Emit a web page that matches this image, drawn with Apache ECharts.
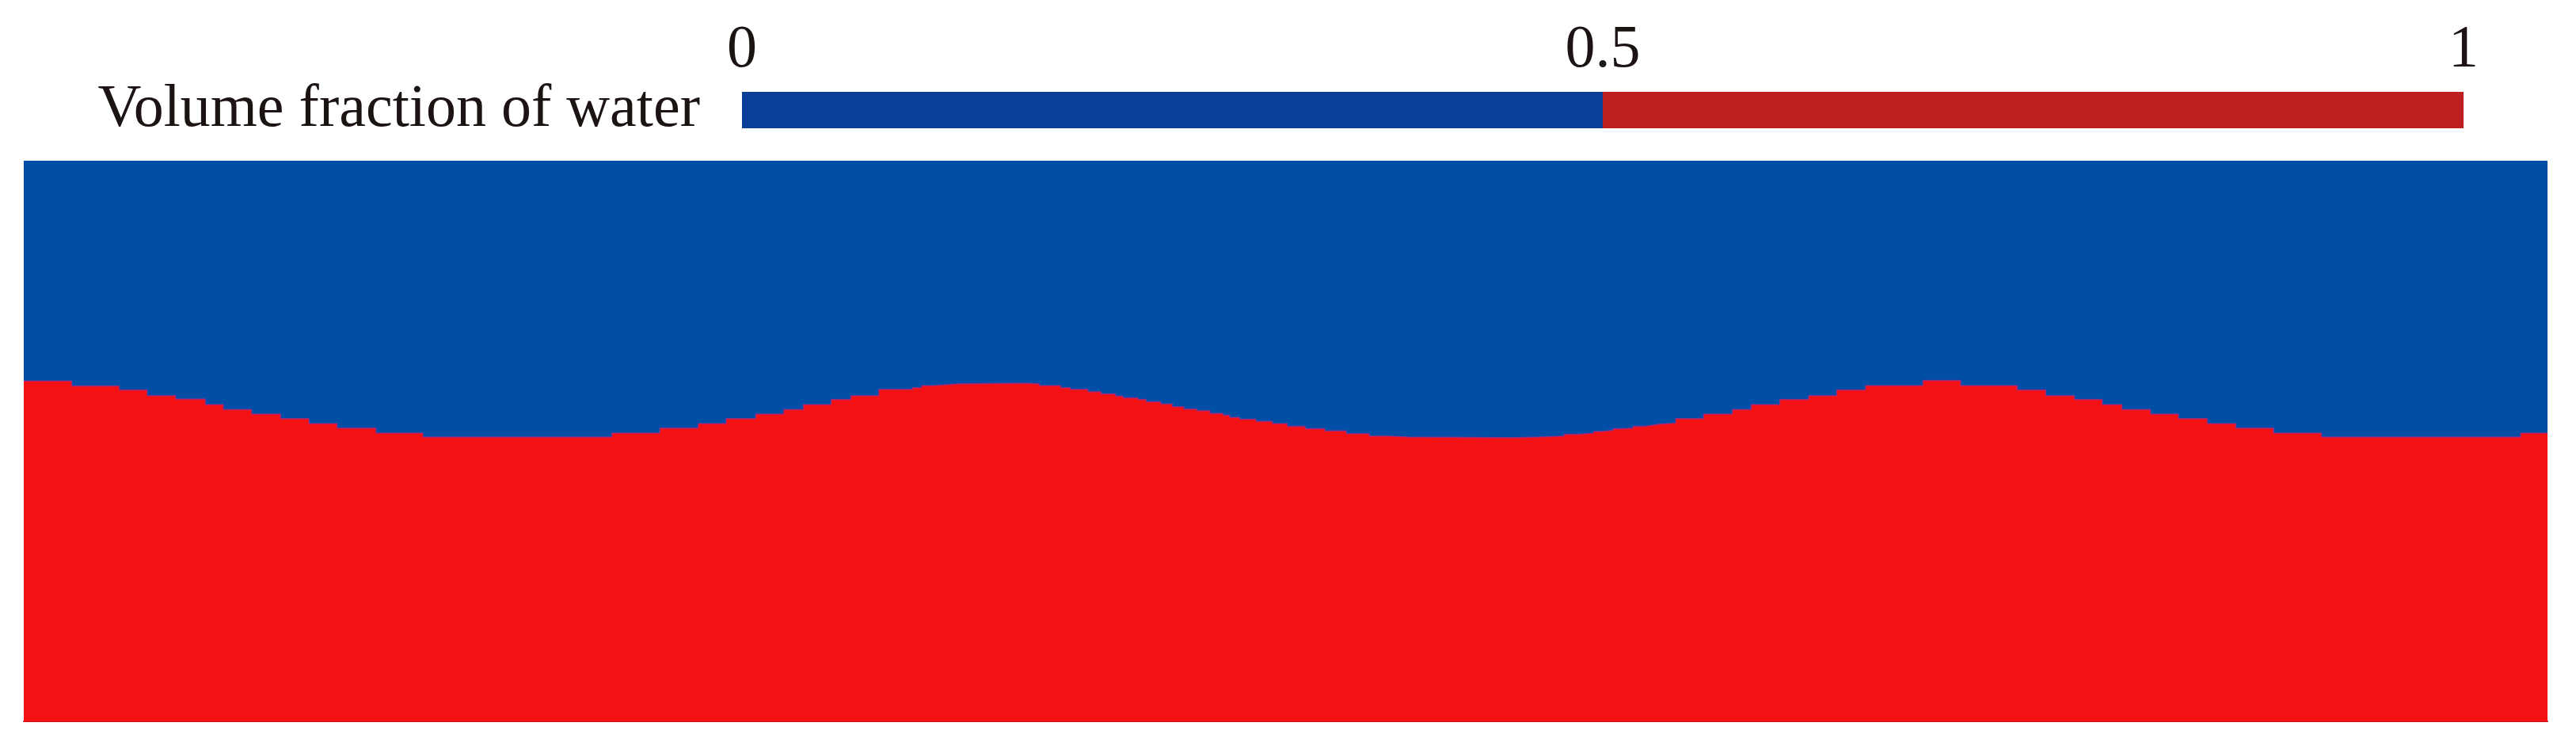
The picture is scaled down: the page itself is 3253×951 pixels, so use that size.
<!DOCTYPE html>
<html>
<head>
<meta charset="utf-8">
<title>Volume fraction of water</title>
<script src="https://cdn.jsdelivr.net/npm/echarts@6/dist/echarts.min.js"></script>
<style>
  html, body { margin: 0; padding: 0; background: #fff; }
  #main { width: 3253px; height: 951px; }
</style>
</head>
<body>
<div id="main"></div>
<script>
// free surface: x along the tank (m), water depth (cm)
// each depth holds from its x until the next x (stepped VOF cells)
var stepX = [
  0.000, 0.304, 0.605, 0.782, 0.963, 1.151, 1.265, 1.444, 1.628, 1.808, 1.986, 2.233, 2.531,
  3.729, 4.033, 4.276, 4.453, 4.641, 4.818, 4.943, 5.119, 5.244, 5.421, 5.634, 5.692, 5.764, 5.827, 5.931, 6.337,
  6.438, 6.574, 6.636, 6.746, 6.830, 6.921, 6.969, 7.063, 7.115, 7.208, 7.281, 7.354, 7.437, 7.521,
  7.604, 7.645, 7.708, 7.812, 7.916, 8.010, 8.124, 8.249, 8.384, 8.530, 8.655, 8.780, 9.446, 9.602,
  9.766, 9.860, 9.953, 10.005, 10.078, 10.130, 10.203, 10.272, 10.321, 10.370, 10.473, 10.650, 10.833,
  10.952, 11.133, 11.316, 11.494, 11.677, 12.041, 12.279, 12.638, 12.819,
  13.000, 13.177, 13.302, 13.483, 13.660, 13.843, 14.024, 14.263, 14.567, 15.830, 16.000
]
var waterDepth = [
  60.7, 59.8, 59.1, 58.1, 57.5, 56.5, 55.6, 54.8, 54.0, 53.1, 52.3, 51.4, 50.7,
  51.4, 52.3, 53.1, 54.0, 54.8, 55.6, 56.5, 57.4, 58.1, 59.2, 59.5, 59.9, 60.0, 60.2, 60.3, 60.2,
  59.9, 59.5, 59.2, 58.8, 58.4, 58.0, 57.7, 57.4, 57.0, 56.6, 56.1, 55.7, 55.4, 54.9,
  54.6, 54.2, 53.9, 53.5, 53.1, 52.6, 52.2, 51.8, 51.3, 50.9, 50.7, 50.6, 50.7, 50.9,
  51.2, 51.4, 51.7, 51.9, 52.2, 52.3, 52.6, 52.8, 53.0, 53.2, 54.0, 54.8, 55.6,
  56.5, 57.4, 58.1, 59.1, 59.9, 60.8, 59.9, 59.1, 58.1,
  57.4, 56.5, 55.6, 54.8, 54.0, 53.1, 52.3, 51.4, 50.7, 51.4, 51.4
]
var tankLength = 16   // m
var tankHeight = 100  // cm

// colour bar
var colorbarTitle = ['Volume fraction of water']
var colorbarTicks = [0, 0.5, 1]
var airBand = [0.5]    // 0 .. 0.5
var waterBand = [0.5]  // 0.5 .. 1

var surface = stepX.map(function (x, i) { return [x, waterDepth[i]] })

var font = 'Liberation Serif, Times New Roman, serif'
var ink = '#1b1412'

var myChart = echarts.init(document.getElementById('main'))
myChart.setOption({
  animation: false,
  backgroundColor: '#ffffff',
  grid: [
    { // wave tank
      left: 30, right: 36, top: 203, bottom: 40,
      show: true, backgroundColor: '#004ea5', borderWidth: 0
    },
    { // colour bar
      left: 937, right: 142, top: 116, height: 46
    }
  ],
  xAxis: [
    {
      type: 'value', gridIndex: 0, min: 0, max: tankLength,
      axisLine: { show: true, lineStyle: { color: '#c4161b', width: 2 } },
      axisTick: { show: false }, axisLabel: { show: false }, splitLine: { show: false }
    },
    {
      type: 'value', gridIndex: 1, position: 'top',
      min: colorbarTicks[0], max: colorbarTicks[colorbarTicks.length - 1],
      interval: colorbarTicks[1] - colorbarTicks[0],
      axisLine: { show: false }, axisTick: { show: false }, splitLine: { show: false },
      axisLabel: {
        show: true, showMinLabel: true, showMaxLabel: true,
        fontFamily: font, fontSize: 76, color: ink, margin: 14
      }
    }
  ],
  yAxis: [
    {
      type: 'value', gridIndex: 0, min: 0, max: tankHeight,
      axisLine: { show: false }, axisTick: { show: false },
      axisLabel: { show: false }, splitLine: { show: false }
    },
    {
      type: 'category', gridIndex: 1, data: colorbarTitle,
      axisLine: { show: false }, axisTick: { show: false }, splitLine: { show: false },
      axisLabel: { fontFamily: font, fontSize: 76, color: ink, margin: 53 }
    }
  ],
  series: [
    {
      type: 'line',
      xAxisIndex: 0, yAxisIndex: 0,
      data: surface,
      step: 'end',
      symbol: 'none',
      silent: true,
      lineStyle: { width: 1.5, color: '#a22a86', opacity: 0.8 },
      areaStyle: { color: '#f41114', opacity: 1 }
    },
    {
      type: 'bar', xAxisIndex: 1, yAxisIndex: 1, stack: 'cb',
      data: airBand, barWidth: '100%', silent: true,
      itemStyle: { color: '#0a3e97' }
    },
    {
      type: 'bar', xAxisIndex: 1, yAxisIndex: 1, stack: 'cb',
      data: waterBand, barWidth: '100%', silent: true,
      itemStyle: { color: '#be1f21' }
    }
  ]
})
</script>
</body>
</html>
